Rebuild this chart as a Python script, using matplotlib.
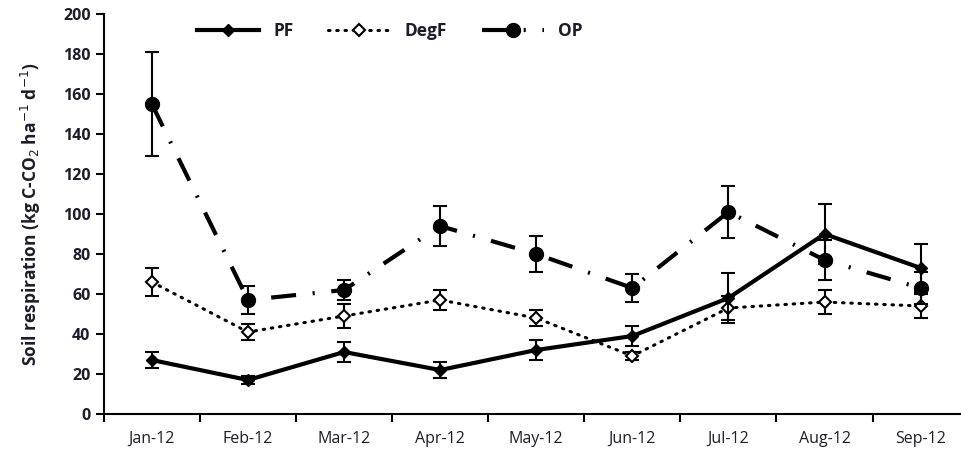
import numpy as np
import matplotlib.pyplot as plt

months = ['Jan-12', 'Feb-12', 'Mar-12', 'Apr-12', 'May-12', 'Jun-12', 'Jul-12', 'Aug-12', 'Sep-12']
pf = [27, 17, 31, 22, 32, 39, 58, 90, 73]
pf_err = [4, 2, 5, 4, 5, 5, 12.5, 15, 12]
degf = [66, 41, 49, 57, 48, 29, 53, 56, 54]
degf_err = [7, 4, 6, 5, 4, 2, 6, 6, 6]
op = [155, 57, 62, 94, 80, 63, 101, 77, 63]
op_err = [26, 7, 5, 10, 9, 7, 13, 10, 8]

plt.rcParams['font.family'] = ['Open Sans', 'DejaVu Sans']
txt = '#1c1c2c'
x = np.arange(len(months))

fig = plt.figure(figsize=(9.61, 4.51), dpi=100)
ax = fig.add_axes([0.108, 0.082, 0.895, 0.887])

c1 = ax.errorbar(x, pf, yerr=pf_err, color='black', lw=3, marker='D', ms=6,
                 capsize=5, elinewidth=1.5, capthick=1.5, label='PF', zorder=3)
c2 = ax.errorbar(x, degf, yerr=degf_err, color='black', lw=2.2, ls=(0, (0.5, 2.2)),
                 dash_capstyle='round', marker='D', ms=6.5, mfc='white', mew=1.5,
                 capsize=5, elinewidth=1.5, capthick=1.5, label='DegF', zorder=2)
c3 = ax.errorbar(x, op, yerr=op_err, color='black', lw=3, ls=(0, (6, 4, 0.5, 4)),
                 marker='o', ms=10, capsize=5, elinewidth=1.5, capthick=1.5,
                 label='OP', zorder=4)

ax.set_xlim(-0.5, 8.45)
ax.set_ylim(0, 200)
ax.set_yticks(np.arange(0, 201, 20))
ax.set_xticks(x)
ax.set_xticklabels(months)
ax.set_xticks(np.arange(-0.5, 8.5, 1), minor=True)
ax.tick_params(axis='x', which='major', length=0, pad=12, labelsize=11.5, labelcolor=txt)
ax.tick_params(axis='x', which='minor', length=6, width=1.5, direction='out')
ax.tick_params(axis='y', length=6, width=1.5, labelsize=11.5, labelcolor=txt)
for lab in ax.get_yticklabels():
    lab.set_fontweight('bold')

for s in ['top', 'right']:
    ax.spines[s].set_visible(False)
for s in ['left', 'bottom']:
    ax.spines[s].set_linewidth(1.5)

ax.set_ylabel('Soil respiration (kg C-CO$_2$ ha$^{-1}$ d$^{-1}$)', fontsize=12.5,
              fontweight='bold', color=txt, labelpad=14)

leg = ax.legend(handles=[c1[0], c2[0], c3[0]], labels=['PF', 'DegF', 'OP'],
                loc='upper left', bbox_to_anchor=(0.09, 1.02), ncol=3, frameon=False,
                handlelength=3.6, columnspacing=2.0, prop={'weight': 'bold', 'size': 12.5})
for t in leg.get_texts():
    t.set_color(txt)

fig.savefig('out.png', dpi=100)
